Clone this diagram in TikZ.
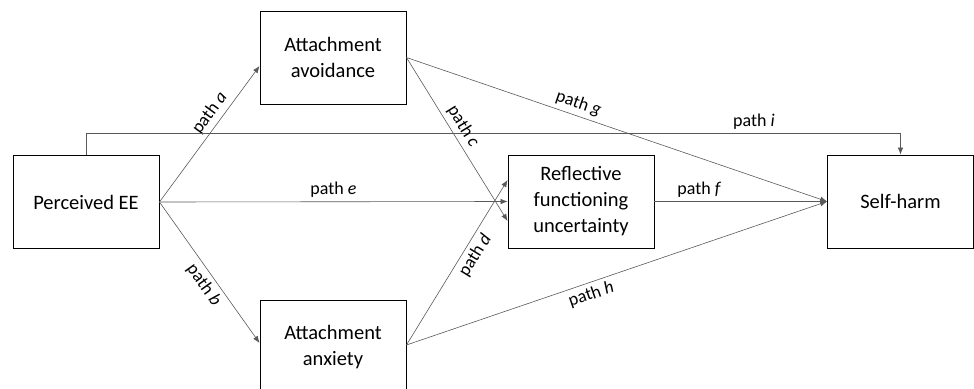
\documentclass[tikz,border=0pt]{standalone}
\usepackage{fontspec}
\setmainfont{Carlito}
\usetikzlibrary{arrows.meta}

\begin{document}
\begin{tikzpicture}[x=1pt,y=-1pt,
  box/.style={draw=black, line width=0.9pt, minimum width=146pt, minimum height=93pt,
    inner sep=0pt, align=center, font=\fontsize{20.5}{26}\selectfont},
  link/.style={->, draw=black!65, line width=0.6pt},
  lab/.style={sloped, inner sep=4pt, font=\fontsize{18}{20}\selectfont},
  >={Latex[length=7pt,width=5.5pt]}]

\useasboundingbox (0,0) rectangle (974,388);

\node[box] (ee) at (86,202) {Perceived EE};
\node[box] (avoid) at (333,57.5) {Attachment\\avoidance};
\node[box] (anx) at (333,347) {Attachment\\anxiety};
\node[box] (rfu) at (581,201.5) {Reflective\\functioning\\uncertainty};
\node[box] (sh) at (900.5,201.5) {Self-harm};

%from perceived EE
\draw[link] (ee.east) -- node[lab,above,pos=0.6] {path \textit{a}} ([yshift=-8.5pt]avoid.west);
\draw[link] (ee.east) -- node[lab,below,pos=0.54] {path \textit{b}} ([yshift=4pt]anx.west);
\draw[link] (ee.east) -- node[lab,above] {path \textit{e}} (rfu.west);
\draw[link] (ee.north) -- ++(0,-21.5) -| node[lab,above,pos=0.41] {path \textit{i}} (sh.north);

%attachment to reflective functioning
\draw[link] (avoid.east) -- node[lab,above,pos=0.46] {path \textit{c}} ([yshift=-19.5pt]rfu.west);
\draw[link] ([yshift=2pt]anx.east) -- node[lab,below,pos=0.58] {path \textit{d}} ([yshift=21.5pt]rfu.west);

%to self-harm
\draw[link] (avoid.east) -- node[lab,above,pos=0.4] {path \textit{g}} (sh.west);
\draw[link] ([yshift=2pt]anx.east) -- node[lab,below,pos=0.43] {path \textit{h}} (sh.west);
\draw[link] (rfu.east) -- node[lab,above,pos=0.26] {path \textit{f}} (sh.west);

\end{tikzpicture}
\end{document}
